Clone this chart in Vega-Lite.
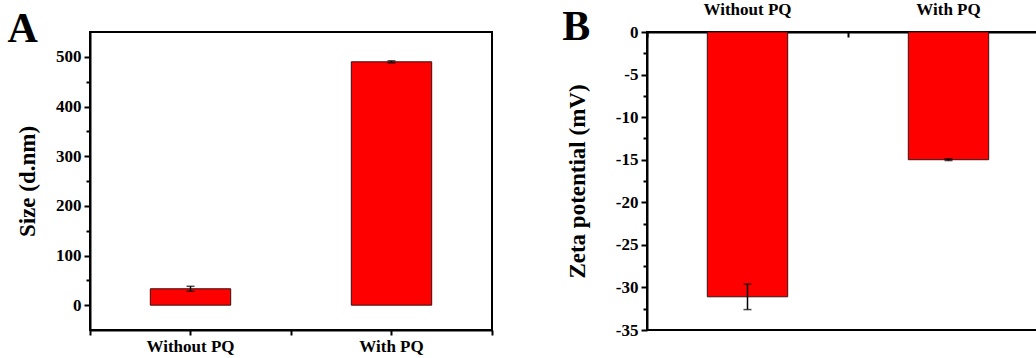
{
  "$schema": "https://vega.github.io/schema/vega-lite/v6.json",
  "padding": {"left": 6, "top": -1, "right": 0, "bottom": 0},
  "background": "white",
  "spacing": 67,
  "config": {
    "font": "Liberation Serif",
    "view": {"stroke": "black", "strokeWidth": 2},
    "axis": {
      "labelFont": "Liberation Serif", "labelFontWeight": "bold", "labelFontSize": 17, "labelColor": "black",
      "titleFont": "Liberation Serif", "titleFontWeight": "bold", "titleFontSize": 23, "titleColor": "black",
      "domainColor": "black", "domainWidth": 2, "tickColor": "black", "tickWidth": 2, "grid": false
    },
    "title": {"font": "Liberation Serif", "fontWeight": "bold", "fontSize": 42, "color": "black"}
  },
  "hconcat": [
    {
      "width": 402, "height": 298,
      "title": {"text": "A", "anchor": "start", "frame": "bounds", "baseline": "top", "offset": -19, "dx": -9},
      "data": {"values": [
        {"group": "Without PQ", "size": 33, "lo": 28, "hi": 38},
        {"group": "With PQ", "size": 490, "lo": 488, "hi": 492}
      ]},
      "resolve": {"axis": {"x": "independent", "y": "independent"}},
      "layer": [
        {
          "mark": {"type": "bar", "color": "#FF0000", "stroke": "#3a1010", "strokeWidth": 1, "width": {"band": 0.4}},
          "encoding": {
            "x": {"field": "group", "type": "nominal", "sort": ["Without PQ", "With PQ"],
                  "scale": {"paddingInner": 0, "paddingOuter": 0},
                  "axis": {"orient": "bottom", "title": null, "labelAngle": 0, "tickSize": 5, "labelPadding": 3}},
            "y": {"field": "size", "type": "quantitative",
                  "scale": {"domain": [-50, 550], "nice": false, "zero": false},
                  "axis": {"orient": "left", "title": "Size (d.nm)", "values": [0, 100, 200, 300, 400, 500], "tickSize": 6, "labelPadding": 3, "titlePadding": 16}}
          }
        },
        {
          "mark": {"type": "rule", "color": "black", "strokeWidth": 1.5},
          "encoding": {
            "x": {"field": "group", "type": "nominal", "sort": ["Without PQ", "With PQ"],
                  "axis": {"orient": "bottom", "title": null, "labels": false, "domain": false, "tickBand": "extent", "tickSize": 5}},
            "y": {"field": "lo", "type": "quantitative",
                  "axis": {"orient": "left", "title": null, "labels": false, "domain": false, "values": [50, 150, 250, 350, 450], "tickSize": 4}},
            "y2": {"field": "hi"}
          }
        },
        {
          "mark": {"type": "tick", "color": "black", "thickness": 1.5, "size": 8},
          "encoding": {
            "x": {"field": "group", "type": "nominal", "sort": ["Without PQ", "With PQ"], "axis": null},
            "y": {"field": "lo", "type": "quantitative", "axis": null}
          }
        },
        {
          "mark": {"type": "tick", "color": "black", "thickness": 1.5, "size": 8},
          "encoding": {
            "x": {"field": "group", "type": "nominal", "sort": ["Without PQ", "With PQ"], "axis": null},
            "y": {"field": "hi", "type": "quantitative", "axis": null}
          }
        }
      ]
    },
    {
      "width": 402, "height": 298,
      "title": {"text": "B", "anchor": "start", "frame": "bounds", "baseline": "top", "offset": -49, "dx": -4},
      "data": {"values": [
        {"group": "Without PQ", "zeta": -31.1, "lo": -32.6, "hi": -29.6},
        {"group": "With PQ", "zeta": -15.0, "lo": -15.1, "hi": -14.9}
      ]},
      "resolve": {"axis": {"x": "independent", "y": "independent"}},
      "layer": [
        {
          "mark": {"type": "bar", "color": "#FF0000", "stroke": "#3a1010", "strokeWidth": 1, "width": {"band": 0.4}},
          "encoding": {
            "x": {"field": "group", "type": "nominal", "sort": ["Without PQ", "With PQ"],
                  "scale": {"paddingInner": 0, "paddingOuter": 0},
                  "axis": {"orient": "top", "title": null, "labelAngle": 0, "tickSize": -5, "labelPadding": 19}},
            "y": {"field": "zeta", "type": "quantitative",
                  "scale": {"domain": [-35, 0], "nice": false, "zero": false},
                  "axis": {"orient": "left", "title": "Zeta potential (mV)", "values": [0, -5, -10, -15, -20, -25, -30, -35], "labelExpr": "'' + datum.value", "tickSize": 6, "labelPadding": 3, "titlePadding": 26}}
          }
        },
        {
          "mark": {"type": "rule", "color": "black", "strokeWidth": 1.5},
          "encoding": {
            "x": {"field": "group", "type": "nominal", "sort": ["Without PQ", "With PQ"],
                  "axis": {"orient": "top", "title": null, "labels": false, "domain": false, "tickBand": "extent", "tickSize": -5}},
            "y": {"field": "lo", "type": "quantitative",
                  "axis": {"orient": "left", "title": null, "labels": false, "domain": false, "values": [-2.5, -7.5, -12.5, -17.5, -22.5, -27.5, -32.5], "tickSize": 4}},
            "y2": {"field": "hi"}
          }
        },
        {
          "mark": {"type": "tick", "color": "black", "thickness": 1.5, "size": 8},
          "encoding": {
            "x": {"field": "group", "type": "nominal", "sort": ["Without PQ", "With PQ"], "axis": null},
            "y": {"field": "lo", "type": "quantitative", "axis": null}
          }
        },
        {
          "mark": {"type": "tick", "color": "black", "thickness": 1.5, "size": 8},
          "encoding": {
            "x": {"field": "group", "type": "nominal", "sort": ["Without PQ", "With PQ"], "axis": null},
            "y": {"field": "hi", "type": "quantitative", "axis": null}
          }
        }
      ]
    }
  ]
}
